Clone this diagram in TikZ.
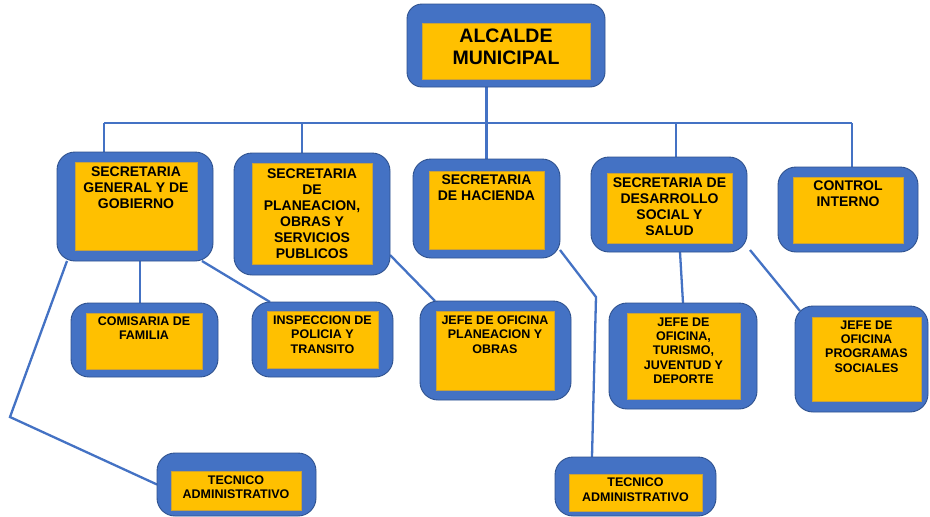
\documentclass[tikz,border=0pt]{standalone}
\usepackage{fontspec}
\setmainfont{Liberation Sans}
\pgfdeclarelayer{background}
\pgfsetlayers{background,main}

\definecolor{unitblue}{HTML}{4472C4}
\definecolor{unitedge}{HTML}{2F528F}
\definecolor{unitgold}{HTML}{FFC000}
\definecolor{goldedge}{HTML}{C9A23A}

\tikzset{
  outerbox/.style={draw=unitedge, line width=0.9pt, fill=unitblue,
    rounded corners=18pt, inner sep=0pt, outer sep=0pt},
  innerbox/.style={draw=goldedge, line width=0.4pt, fill=unitgold,
    inner sep=0pt, outer sep=0pt},
  unitlabel/.style={inner sep=0pt, align=center, text=black},
  link/.style={draw=unitblue, line width=2.3pt},
  buslink/.style={draw=unitblue, line width=2.7pt},
  toplabel/.style={font=\fontsize{19.5}{22}\selectfont\bfseries},
  midlabel/.style={font=\fontsize{14}{16}\selectfont\bfseries},
  lowlabel/.style={font=\fontsize{12.5}{14.3}\selectfont\bfseries},
}

% outer frame and gold panel of one unit: name, outer x1 y1 x2 y2, inner x1 y1 x2 y2
\newcommand{\unitframe}[9]{%
  \node[outerbox, minimum width={#4-#2}, minimum height={#5-#3}]
    (#1) at ({(#2+#4)/2},{(#3+#5)/2}) {};
  \node[innerbox, minimum width={#8-#6}, minimum height={#9-#7}]
    (#1-in) at ({(#6+#8)/2},{(#7+#9)/2}) {};
}
% caption of one unit: name, top of first line, style, text
\newcommand{\unittext}[4]{%
  \coordinate (#1-top) at (0,#2);
  \node[unitlabel, #3, anchor=north] (#1-txt) at (#1-in.center |- #1-top) {#4};
}

\begin{document}
\begin{tikzpicture}[x=1pt, y=-1pt]
  \useasboundingbox (0,0) rectangle (930,517);

  % mayor
  \begin{scope}[outerbox/.append style={rounded corners=15pt}]
    \unitframe{alc}{407}{4}{605}{87}{422}{23}{590}{79}
  \end{scope}
  \unittext{alc}{28.5}{toplabel}{ALCALDE\\MUNICIPAL}

  % secretariats
  \unitframe{sg}{57}{152}{213}{261}{75}{162}{197}{250}
  \unittext{sg}{166.5}{midlabel}{SECRETARIA\\GENERAL Y DE\\GOBIERNO}

  \unitframe{sp}{234}{153}{390}{275}{252}{163}{372}{264}
  \unittext{sp}{169}{midlabel}{\fontsize{14}{16.5}\selectfont SECRETARIA\\DE\\PLANEACION,\\OBRAS Y\\SERVICIOS\\PUBLICOS}

  \unitframe{sh}{413}{159}{560}{258}{429}{171}{544}{249}
  \unittext{sh}{175}{midlabel}{SECRETARIA\\DE HACIENDA}

  \unitframe{sd}{591}{157}{747}{252}{607}{173}{732}{243}
  \unittext{sd}{177.5}{midlabel}{SECRETARIA DE\\DESARROLLO\\SOCIAL Y\\SALUD}

  \unitframe{ci}{778}{167}{918}{252}{793}{177}{903}{243}
  \unittext{ci}{181}{midlabel}{CONTROL\\INTERNO}

  % offices
  \unitframe{cf}{71}{303}{218}{377}{86}{313}{202}{369}
  \unittext{cf}{316.5}{lowlabel}{COMISARIA DE\\FAMILIA}

  \unitframe{ip}{252}{302}{393}{377}{267}{311}{378}{368}
  \unittext{ip}{315.5}{lowlabel}{INSPECCION DE\\POLICIA Y\\TRANSITO}

  \unitframe{jp}{420}{301}{571}{400}{436}{311}{554}{390}
  \unittext{jp}{315.5}{lowlabel}{JEFE DE OFICINA\\PLANEACION Y\\OBRAS}

  \unitframe{jt}{609}{303}{757}{409}{627}{313}{740}{399}
  \unittext{jt}{317.5}{lowlabel}{JEFE DE\\OFICINA,\\TURISMO,\\JUVENTUD Y\\DEPORTE}

  \unitframe{jps}{795}{306}{928}{412}{812}{317}{921}{401}
  \unittext{jps}{320.5}{lowlabel}{JEFE DE\\OFICINA\\PROGRAMAS\\SOCIALES}

  \unitframe{ta1}{157}{453}{316}{516}{171}{471}{301}{510}
  \unittext{ta1}{475.5}{lowlabel}{TECNICO\\ADMINISTRATIVO}

  \unitframe{ta2}{555}{457}{716}{516}{569}{474}{702}{511}
  \unittext{ta2}{478}{lowlabel}{TECNICO\\ADMINISTRATIVO}

  % connectors
  \coordinate (busL) at (104,123);
  \coordinate (busR) at (852,123);
  \coordinate (dropsp) at (302,123);
  \coordinate (dropsd) at (676,123);
  \coordinate (bendA) at (10,417);
  \coordinate (bendB) at (596,297);

  \begin{pgfonlayer}{background}
    \fill[white] (0,0) rectangle (930,517);
    \draw[buslink] (busL) -- (busR);
    \draw[link] (alc.south -| sh.north) -- (sh.north);
    \draw[link] (busL) -- (busL |- sg.north);
    \draw[link] (dropsp) -- (dropsp |- sp.north);
    \draw[link] (dropsd) -- (dropsd |- sd.north);
    \draw[link] (busR) -- (busR |- ci.north);

    \draw[link] ([xshift=-4.5pt]sg.south -| cf.north) -- ([xshift=-4.5pt]cf.north);
    \draw[link] ([xshift=-11pt]sg.south east) -- ([xshift=18pt]ip.north west);
    \draw[link] ([xshift=10pt]sg.south west) -- (bendA) -- (ta1.west);
    \draw[link] ([yshift=20pt]sp.south east) -- ([xshift=15pt]jp.north west);
    \draw[link] ([yshift=8pt]sh.south east) -- (bendB) -- ([xshift=37pt]ta2.north west);
    \draw[link] ([xshift=11pt]sd.south) -- (jt.north);
    \draw[link] ([xshift=3pt,yshift=2pt]sd.south east) -- ([xshift=5pt,yshift=-5pt]jps.north west);
  \end{pgfonlayer}
\end{tikzpicture}
\end{document}
